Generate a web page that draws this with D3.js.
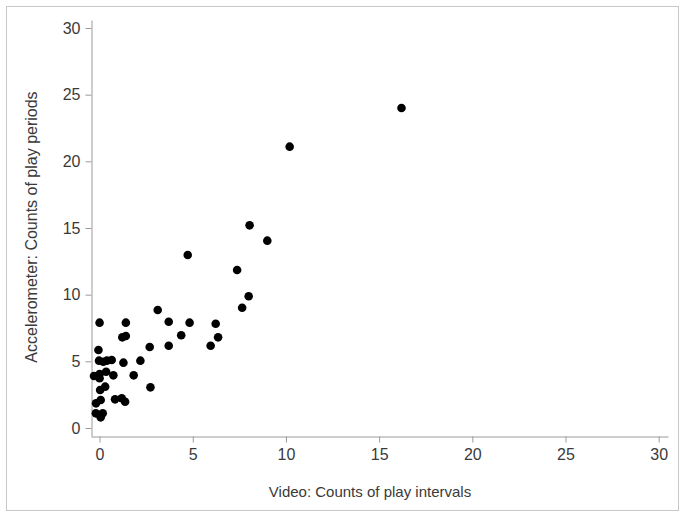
<!DOCTYPE html>
<html>
<head>
<meta charset="utf-8">
<script src="https://cdn.jsdelivr.net/npm/d3@7"></script>
<style>
  html, body { margin: 0; padding: 0; background: #fff; }
  svg { display: block; }
  text { font-family: "Liberation Sans", Arial, sans-serif; }
</style>
</head>
<body>
<svg id="chart" width="683" height="514"></svg>
<script>
// Data
const videoCounts = [16.2, 10.2, 8.05, 9.0, 4.73, 7.38, 8.0, 7.65,
  0.0, 1.41, 3.12, 3.71, 4.83, 6.23, 6.36, 5.96, 4.38, 3.71, 2.69, 1.22, 1.41,
  -0.06, 2.19, 1.28, -0.03, 0.2, 0.39, 0.65,
  -0.3, 0.0, 0.35, 0.74, 0.0, 1.83, 0.3, 0.03, 2.73,
  -0.19, 0.06, 0.83, 1.19, 1.37, -0.2, 0.17, 0.06];
const accelCounts = [24.0, 21.1, 15.2, 14.05, 12.98, 11.85, 9.88, 9.02,
  7.9, 7.9, 8.85, 7.97, 7.9, 7.82, 6.8, 6.17, 6.96, 6.17, 6.08, 6.8, 6.9,
  5.85, 5.05, 4.9, 5.05, 4.97, 5.05, 5.1,
  3.9, 4.05, 4.22, 3.95, 3.73, 3.95, 3.1, 2.85, 3.05,
  1.85, 2.1, 2.15, 2.23, 1.97, 1.1, 1.1, 0.8];
const xTicks = [0, 5, 10, 15, 20, 25, 30];
const yTicks = [0, 5, 10, 15, 20, 25, 30];
const xTitle = "Video: Counts of play intervals";
const yTitle = "Accelerometer: Counts of play periods";

const svg = d3.select("#chart");

// outer frame
svg.append("rect").attr("x", 6.5).attr("y", 6.5).attr("width", 672).attr("height", 504)
  .attr("fill", "none").attr("stroke", "#c8c8c8").attr("stroke-width", 1);

const x = d3.scaleLinear().domain([-0.46, 30.5]).range([91, 668]);
const y = d3.scaleLinear().domain([-0.6, 30.6]).range([436, 20]);

const axisColor = "#9a9a9a";
const textColor = "#3a3a3a";

// X axis
const gx = svg.append("g").attr("transform", "translate(0,436.5)")
  .call(d3.axisBottom(x).tickValues(xTicks).tickSize(6).tickSizeOuter(0).tickPadding(6));
// Y axis
const gy = svg.append("g").attr("transform", "translate(91.5,0)")
  .call(d3.axisLeft(y).tickValues(yTicks).tickSize(6).tickSizeOuter(0).tickPadding(5));

[gx, gy].forEach(g => {
  g.select(".domain").attr("stroke", axisColor);
  g.selectAll(".tick line").attr("stroke", axisColor);
  g.selectAll(".tick text").attr("fill", textColor).attr("font-size", "16px")
    .attr("font-family", "'Liberation Sans', Arial, sans-serif");
});

// Axis titles
svg.append("text").attr("x", 370).attr("y", 497).attr("text-anchor", "middle")
  .attr("font-size", "15px").attr("fill", textColor).text(xTitle);
svg.append("text").attr("transform", "translate(37,227) rotate(-90)")
  .attr("text-anchor", "middle").attr("font-size", "16px").attr("fill", textColor).text(yTitle);

// Points
const pts = videoCounts.map((v, i) => ({ v, a: accelCounts[i] }));
svg.append("g").selectAll("circle").data(pts).join("circle")
  .attr("cx", d => x(d.v)).attr("cy", d => y(d.a)).attr("r", 4.3)
  .attr("fill", "#000");
</script>
</body>
</html>
